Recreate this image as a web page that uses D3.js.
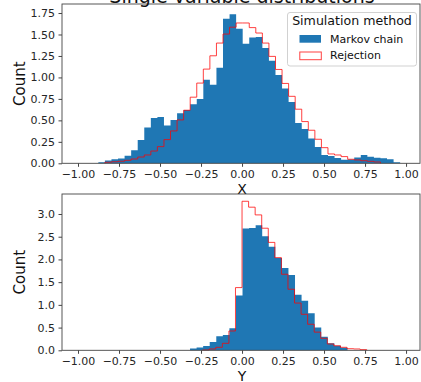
<!DOCTYPE html>
<html><head><meta charset="utf-8">
<script src="https://cdn.jsdelivr.net/npm/d3@7"></script>
<style>body{margin:0;background:#fff} svg{display:block;font-family:"DejaVu Sans",sans-serif}</style>
</head><body><svg id="c" width="421" height="382"></svg>
<script>
// ---- data ----
const binWidth = 0.04;
const xMarkovStart = -0.876;
const xMarkov = [0.012,0.033,0.048,0.057,0.089,0.152,0.272,0.418,0.527,0.538,0.44,0.503,0.583,0.622,0.689,0.748,
  0.972,0.914,1.113,1.684,1.735,1.567,1.392,1.466,1.47,1.342,1.194,1.027,0.87,0.715,0.47,0.40,0.29,0.19,0.097,0.085,
  0.062,0.04,0.045,0.068,0.097,0.076,0.066,0.058,0.048,0.012];
const xRejectionStart = -0.836;
const xRejection = [0.012,0.018,0.024,0.035,0.05,0.073,0.097,0.143,0.194,0.276,0.377,0.505,0.618,0.77,0.934,1.097,
  1.252,1.40,1.505,1.585,1.634,1.634,1.58,1.517,1.40,1.245,1.093,0.93,0.78,0.63,0.486,0.385,0.28,0.182,0.109,0.097,
  0.078,0.047,0.039,0.03,0.023,0.015];
const yMarkovStart = -0.317;
const yMarkov = [0.037,0.06,0.095,0.183,0.31,0.337,0.484,1.205,2.68,2.69,2.75,2.51,2.28,2.03,1.81,1.66,1.22,1.09,
  0.815,0.50,0.30,0.154,0.10,0.055];
const yRejectionStart = -0.24;
const yRejection = [0.007,0.029,0.066,0.154,0.425,1.38,3.28,3.15,2.98,2.687,2.375,2.04,1.674,1.344,1.04,0.793,0.573,
  0.40,0.264,0.139,0.10,0.066,0.035,0.029,0.015];
const xTicks = [-1,-0.75,-0.5,-0.25,0,0.25,0.5,0.75,1];
const topYTicks = [0,0.25,0.5,0.75,1,1.25,1.5,1.75];
const bottomYTicks = [0,0.5,1,1.5,2,2.5,3];
const seriesNames = ["Markov chain","Rejection"];
const titleText = "Single variable distributions";
const legendTitle = "Simulation method";

// ---- drawing ----
const svg = d3.select("#c");
const L = 62, R = 420;
const x = d3.scaleLinear().domain([-1.0976, 1.085]).range([L, R]);
const blue = "#1f77b4";
const minus = s => s.replace(/-/g, "\u2212");

function panel(top, bottom, yMax, ticks, fmt, mStart, mVals, rStart, rVals, xlabel, xlabelY) {
  const y = d3.scaleLinear().domain([0, yMax]).range([bottom, top]);
  const g = svg.append("g");
  const mPts = mVals.map((v, i) => [mStart + i * binWidth, v]);
  mPts.push([mStart + mVals.length * binWidth, mVals[mVals.length - 1]]);
  const area = d3.area().curve(d3.curveStepAfter).x(d => x(d[0])).y0(y(0)).y1(d => y(d[1]));
  g.append("path").attr("d", area(mPts)).attr("fill", blue);
  const rPts = [[rStart, 0]].concat(rVals.map((v, i) => [rStart + i * binWidth, v]));
  rPts.push([rStart + rVals.length * binWidth, 0]);
  const line = d3.line().curve(d3.curveStepAfter).x(d => x(d[0])).y(d => y(d[1]));
  g.append("path").attr("d", line(rPts)).attr("fill", "none").attr("stroke", "red")
    .attr("stroke-opacity", 0.75).attr("stroke-width", 1);
  g.append("rect").attr("x", L).attr("y", top).attr("width", R - L).attr("height", bottom - top)
    .attr("fill", "none").attr("stroke", "#444").attr("stroke-width", 0.9);
  const xa = g.append("g").attr("transform", `translate(0,${bottom})`)
    .call(d3.axisBottom(x).tickValues(xTicks).tickSize(3.5).tickPadding(3).tickFormat(d => minus(d3.format(".2f")(d))));
  xa.select(".domain").remove();
  xa.selectAll("line").attr("stroke", "#444");
  xa.selectAll("text").attr("font-size", 11).attr("fill", "#262626").attr("font-family", "DejaVu Sans");
  const ya = g.append("g").attr("transform", `translate(${L},0)`)
    .call(d3.axisLeft(y).tickValues(ticks).tickSize(3.5).tickPadding(3.5).tickFormat(d => d3.format(fmt)(d)));
  ya.select(".domain").remove();
  ya.selectAll("line").attr("stroke", "#444");
  ya.selectAll("text").attr("font-size", 11).attr("fill", "#262626").attr("font-family", "DejaVu Sans");
  g.append("text").attr("x", x(0)).attr("y", xlabelY).attr("text-anchor", "middle")
    .attr("font-size", 14).attr("fill", "#111").text(xlabel);
  g.append("text").attr("transform", `translate(25,${(top + bottom) / 2}) rotate(-90)`)
    .attr("text-anchor", "middle").attr("font-size", 15).attr("fill", "#111").text("Count");
  return y;
}

panel(4, 163.3, 1.855, topYTicks, ".2f", xMarkovStart, xMarkov, xRejectionStart, xRejection, "X", 193.5);
panel(194, 350.3, 3.44, bottomYTicks, ".1f", yMarkovStart, yMarkov, yRejectionStart, yRejection, "Y", 380.5);

svg.append("text").attr("x", 242).attr("y", 3).attr("text-anchor", "middle")
  .attr("font-size", 19).attr("fill", "#111").text(titleText);

const lg = svg.append("g");
lg.append("rect").attr("x", 287.5).attr("y", 12.5).attr("width", 129).attr("height", 53.5).attr("rx", 2.5)
  .attr("fill", "white").attr("fill-opacity", 0.8).attr("stroke", "#ccc").attr("stroke-width", 0.9);
lg.append("text").attr("x", 352).attr("y", 24.5).attr("text-anchor", "middle").attr("font-size", 12.6)
  .attr("fill", "#111").text(legendTitle);
lg.append("rect").attr("x", 299.5).attr("y", 35).attr("width", 21.5).attr("height", 7.7).attr("fill", blue);
lg.append("rect").attr("x", 299.8).attr("y", 52).attr("width", 21.5).attr("height", 7.7).attr("fill", "none")
  .attr("stroke", "red").attr("stroke-opacity", 0.75).attr("stroke-width", 1);
lg.append("text").attr("x", 330).attr("y", 42.5).attr("font-size", 11).attr("fill", "#111").text(seriesNames[0]);
lg.append("text").attr("x", 330).attr("y", 59).attr("font-size", 11).attr("fill", "#111").text(seriesNames[1]);
</script></body></html>
